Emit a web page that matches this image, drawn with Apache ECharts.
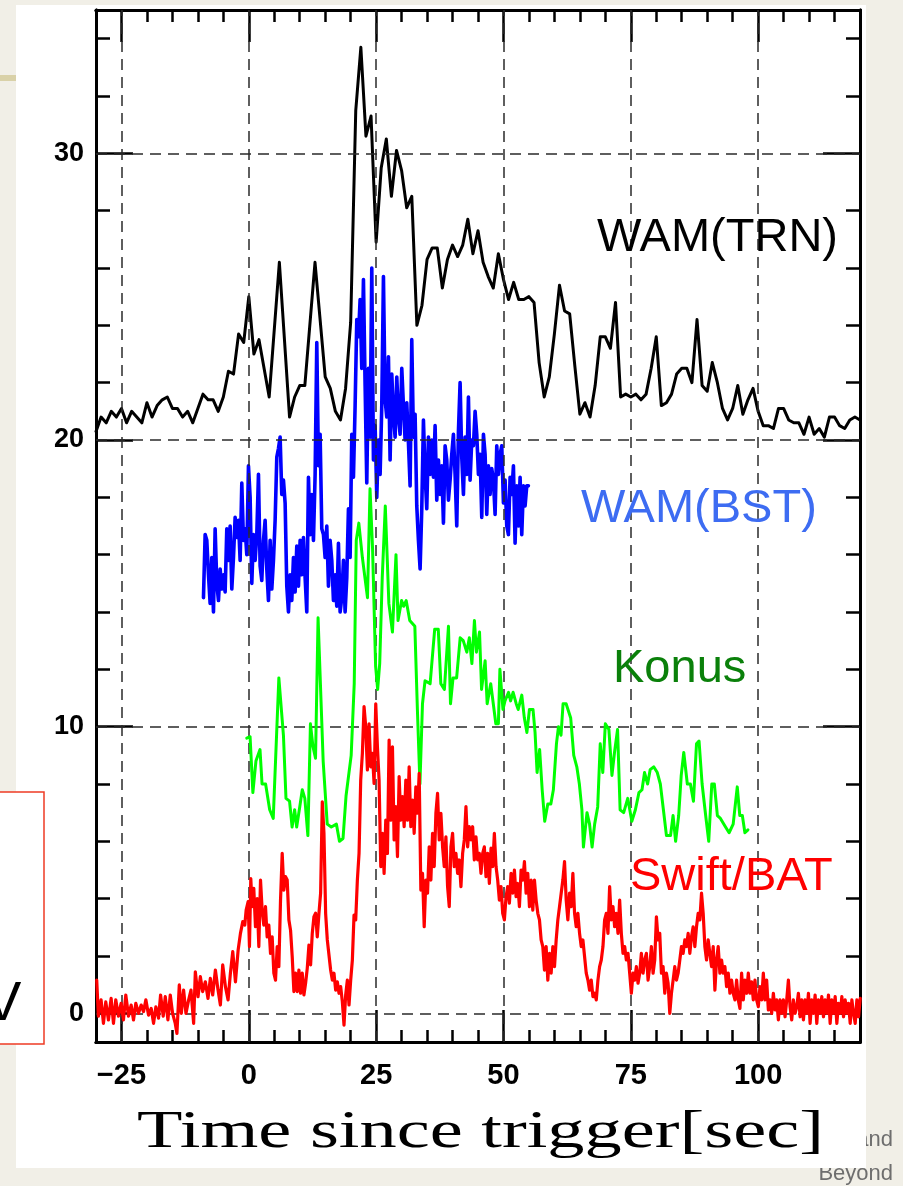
<!DOCTYPE html>
<html>
<head>
<meta charset="utf-8">
<script src="https://cdn.jsdelivr.net/npm/echarts@6/dist/echarts.min.js"></script>
<style>
html,body{margin:0;padding:0;background:#f1efe7;}
#chart{width:903px;height:1186px;}
</style>
</head>
<body>
<div id="chart"></div>
<script>
// ---------------- data ----------------
const xTickLabels = [-25, 0, 25, 50, 75, 100];
const yTickLabels = [0, 10, 20, 30];
const seriesNames = ['WAM(TRN)', 'WAM(BST)', 'Konus', 'Swift/BAT'];

// WAM(TRN) - black
const trnT = [-30,-29,-28,-27,-26,-25,-24,-23,-22,-21,-20,-19,-18,-17,-16,-15,-14,-13,-12,-11,-10,-9,-8,-7,-6,-5,-4,-3,-2,-1,0,1,2,4,6,8,9,10,11,13,15,16,17,18,19,20,21,22,23,24,25,26,27,28,29,30,31,32,33,34,35,36,37,38,39,40,41,42,43,44,45,46,47,48,49,50,51,52,53,54,55,56,57,58,59,60,61,62,63,64,65,66,67,68,69,70,71,72,73,74,75,76,77,78,79,80,81,82,83,84,85,86,87,88,89,90,91,92,93,94,95,96,97,98,99,100,101,102,103,104,105,106,107,108,109,110,111,112,113,114,115,116,117,118,119,120];
const trnV = [20.3,20.8,20.6,21.0,20.8,21.1,20.6,21.0,20.8,20.6,21.3,20.8,21.2,21.4,21.5,21.1,21.1,20.8,21.0,20.6,21.1,21.6,21.4,21.4,21.0,21.5,22.4,22.3,23.7,23.4,25.0,23.0,23.5,21.5,26.2,20.8,21.5,21.9,21.9,26.2,22.2,21.8,21.0,20.7,21.8,24.1,31.5,33.7,30.6,31.3,26.9,29.5,30.5,28.5,30.1,29.4,28.1,28.5,24.0,24.7,26.3,26.7,26.7,25.3,26.3,26.8,26.4,26.8,27.7,26.5,27.3,26.2,25.7,25.3,26.5,25.6,24.9,25.5,24.9,24.9,25.0,24.8,22.7,21.5,22.2,23.7,25.4,24.5,24.4,22.6,20.9,21.3,20.8,21.9,23.6,23.6,23.2,24.8,21.5,21.6,21.5,21.6,21.4,21.6,22.5,23.6,21.2,21.3,21.6,22.3,22.5,22.5,22.0,24.2,21.9,21.7,22.7,22.0,21.1,20.7,21.1,21.9,20.9,21.4,21.8,21.0,20.5,20.5,20.4,21.1,21.1,20.7,20.6,20.6,20.2,20.8,20.2,20.4,20.1,20.8,20.8,20.5,20.4,20.7,20.8,20.7];

// WAM(BST) - blue, evenly spaced samples between bstStart and bstEnd
const bstStart = -8.9, bstEnd = 54.9;
const bstV = [14.5,16.7,16.5,15.3,14.3,15.9,14.0,16.9,15.0,14.4,15.5,14.8,15.3,14.7,16.9,15.8,17.0,14.8,15.9,17.3,16.6,17.2,15.8,18.5,16.5,16.9,16.0,19.1,18.0,15.0,16.7,15.8,16.7,18.8,15.6,15.1,16.5,17.2,15.5,14.4,16.5,14.8,15.8,17.2,19.4,19.7,20.1,18.1,18.6,17.8,14.9,14.0,15.3,14.4,15.9,14.7,16.3,14.9,16.5,15.3,16.6,15.2,14.0,18.7,16.7,18.1,16.5,18.8,23.4,19.1,20.2,16.9,16.7,15.9,17.0,14.9,16.5,15.8,14.4,15.3,14.2,16.4,14.0,14.5,15.8,14.0,15.2,17.6,15.9,20.2,18.7,21.2,24.2,23.6,24.9,22.5,25.6,21.9,18.5,22.5,20.1,26.0,19.3,20.5,18.0,20.0,18.8,21.2,25.7,21.4,20.8,22.9,19.3,22.3,20.9,20.1,22.2,20.8,20.2,22.5,21.2,20.0,21.3,19.9,18.4,23.5,20.1,20.9,17.7,16.5,15.5,17.6,20.7,18.8,17.6,20.1,18.8,20.0,18.7,20.5,17.9,19.3,18.1,19.1,17.1,19.8,19.3,17.9,18.6,19.5,20.2,18.8,17.0,20.3,22.0,19.4,18.1,20.1,18.8,21.5,18.6,20.0,19.8,21.0,20.2,18.8,19.5,17.3,20.2,19.5,17.4,19.1,18.1,19.0,18.6,17.4,19.8,18.8,19.5,19.8,17.8,18.6,17.0,16.7,18.7,18.1,19.1,16.4,18.4,17.0,18.7,16.7,18.4,17.7,18.4,18.4];

// Konus - green
const konT = [-0.4,0.25,0.8,1.4,2.2,2.6,3.3,4.1,4.8,5.9,6.8,7.3,8.0,8.5,9.0,9.4,10.0,10.5,11.0,11.6,12.1,12.6,13.1,13.6,14.6,15.4,16.2,17.2,17.8,18.5,19.1,20.1,20.7,21.1,21.6,22.3,23.3,23.8,24.3,24.9,25.3,25.7,26.2,26.8,27.5,28.2,28.9,29.3,30.0,30.4,30.9,31.6,32.6,33.1,33.6,34.1,34.6,35.6,36.5,37.2,37.7,38.4,39.2,39.6,40.1,40.8,41.5,42.1,42.8,43.3,43.8,44.3,44.7,45.3,45.7,46.4,46.8,47.5,48.0,48.5,49.0,49.3,49.9,50.3,51.0,51.4,51.9,52.5,52.9,53.6,54.1,54.6,55.1,55.8,56.2,56.6,57.1,57.6,58.1,58.7,59.3,59.8,60.4,60.8,61.3,61.7,62.3,63.2,63.8,64.4,64.9,65.4,65.7,66.4,66.9,67.4,67.9,68.5,69.0,69.5,70.0,70.7,71.3,71.8,72.4,72.9,73.6,74.4,75.2,75.9,76.6,77.2,77.7,78.3,78.8,79.5,80.2,80.8,81.4,82.0,82.8,83.3,83.8,84.4,84.9,85.4,86.1,86.7,87.3,87.9,88.4,89.0,89.7,90.3,90.9,91.4,92.0,92.6,93.6,94.3,95.1,95.9,96.4,96.9,97.4,98.0];
const konV = [9.6,9.65,7.7,8.8,9.2,8.0,8.0,7.1,6.8,11.7,9.7,7.5,7.4,6.5,7.1,6.5,7.2,7.8,7.5,6.2,10.1,9.3,8.9,13.8,8.8,6.6,6.5,6.6,6.0,6.1,7.6,9.0,11.5,16.5,17.1,15.9,14.5,18.3,16.2,12.1,11.3,12.2,15.2,17.7,14.3,13.3,16.0,13.7,14.4,14.2,14.4,13.7,13.5,10.6,8.0,10.8,11.6,11.5,13.4,13.4,11.5,11.3,13.5,10.8,11.7,11.7,13.1,13.0,12.6,13.1,12.2,13.7,12.6,13.3,11.3,12.3,10.8,11.5,10.8,10.1,10.1,12.0,10.6,10.9,11.2,10.9,11.2,10.8,10.6,11.1,10.3,9.8,10.6,10.6,9.8,8.4,9.2,7.8,6.7,7.3,7.3,7.8,9.4,10.0,9.7,10.8,10.8,10.3,9.0,8.6,8.0,7.1,5.8,7.0,6.6,5.8,6.6,7.2,9.4,8.4,10.1,9.9,8.3,9.1,9.9,7.1,7.0,7.5,6.7,7.1,7.7,7.8,8.4,8.0,8.5,8.6,8.4,8.0,7.1,6.2,6.2,6.9,6.0,6.9,8.3,9.1,8.0,8.0,7.4,9.4,9.5,8.0,6.9,6.0,8.0,8.0,6.9,6.8,6.5,6.3,6.6,7.9,6.9,6.9,6.3,6.4];

// Swift/BAT - red: pre-burst samples with their times ...
const batPreT = [-29.86,-29.53,-29.0,-28.54,-28.08,-27.56,-27.03,-26.57,-26.12,-25.59,-25.07,-24.61,-24.15,-23.62,-23.1,-22.64,-22.18,-21.65,-21.13,-20.67,-20.21,-19.69,-19.16,-18.7,-18.24,-17.72,-17.32,-16.8,-16.4,-15.88,-15.42,-14.96,-14.44,-14.11,-13.65,-13.25,-12.8,-12.34,-11.81,-11.35,-10.83,-10.5,-9.97,-9.51,-9.06,-8.53,-8.01,-7.55,-7.09,-6.56,-6.04,-5.58,-5.12,-4.59,-4.07,-3.61,-3.15,-2.62,-2.1,-1.64,-1.18,-0.79,-0.52,-0.13,0.13,0.39,0.66,0.98,1.31,1.64,1.97,2.3];
const batPreV = [1.16,-0.1,0.47,-0.35,0.4,-0.23,0.52,-0.35,0.47,-0.1,0.35,-0.23,0.64,-0.1,0.29,-0.23,0.35,0,0.29,0.06,0.47,-0.06,0.17,-0.35,0.23,-0.17,0.64,-0.1,0.58,-0.23,0.64,0,-0.35,-0.7,0.99,0,0.81,0,0.47,0.81,-0.35,1.45,0.58,1.28,0.76,1.1,0.52,1.22,0.64,1.51,0.81,0.29,1.69,0.93,0.47,1.4,2.15,1.1,2.2,2.79,3.2,3.08,3.6,3.9,2.33,4.7,3.72,4.36,3.02,4.0,2.33,4.65];
// ... then evenly spaced samples from batStart with step batStep
const batStart = 2.62, batStep = 0.328;
const batV = [3.6,3.08,3.72,2.67,3.08,2.09,2.67,1.4,1.16,2.33,1.63,3.95,5.58,4.3,4.77,4.65,3.26,2.9,1.98,0.76,1.4,0.76,1.51,0.7,1.4,0.64,1.05,1.57,2.38,1.69,2.79,3.37,3.49,2.67,3.49,4.19,7.38,6.28,3.49,2.56,2.62,1.51,1.16,1.4,0.81,1.1,0.7,0.93,0.41,-0.41,0.64,1.16,0.29,1.16,1.86,3.43,3.26,4.65,5.58,8.14,9.07,10.7,10.0,8.49,10.1,8.6,9.07,8.02,10.8,9.3,8.14,5.12,6.28,4.88,6.74,5.58,9.53,6.74,9.3,6.05,7.21,5.47,8.26,6.74,7.56,6.51,8.14,6.74,8.6,6.51,7.44,6.28,7.9,6.98,8.37,4.3,4.88,3.02,4.65,4.19,5.81,4.65,6.28,5.12,6.98,7.67,6.05,6.98,5.81,5.12,6.16,4.42,3.72,5.81,6.28,5.12,5.58,4.88,5.35,4.42,5.58,6.05,7.21,5.81,6.51,6.05,6.51,5.35,6.16,5.35,5.58,
4.88,5.58,5.81,4.77,5.58,4.53,5.76,5.12,6.28,5.12,4.65,3.95,4.42,3.49,3.26,4.07,4.42,3.84,4.88,4.19,5.0,4.07,4.53,3.72,5.0,4.65,5.29,4.19,4.88,3.72,4.65,3.6,4.65,3.95,3.49,3.26,2.56,2.33,1.51,2.33,1.16,2.09,1.4,2.33,1.63,2.56,3.26,3.72,4.19,4.65,5.29,3.95,3.26,4.19,3.72,4.88,3.49,3.02,3.49,2.79,2.33,2.56,1.98,1.4,1.16,0.81,1.16,0.58,0.7,0.47,1.16,1.63,1.86,2.33,3.26,3.49,2.79,4.42,3.26,3.72,3.02,3.49,2.79,3.95,2.79,2.09,2.33,1.86,2.09,1.4,0.7,1.4,1.16,1.63,1.05,1.4,2.09,1.4,1.86,2.09,1.16,1.63,2.33,1.4,1.86,3.37,2.56,2.79,1.4,1.63,0.7,1.4,1.05,0,0.7,1.16,1.63,1.16,1.4,1.86,2.33,2.09,2.56,2.33,2.79,2.09,2.67,3.02,2.33,3.02,3.49,3.26,4.19,3.49,2.33,1.86,2.56,2.09,1.63,2.33,0.81,1.86,2.33,1.4,1.86,1.4,1.63,0.93,1.4,0.7,1.16,0.7,0.47,1.16,0.47,0.17,1.4,0.47,1.16,0.7,1.4,0.7,1.1,0.47,1.16,0.47,0.23,0.93,0.47,1.4,0.47,1.16,0.12,0.47,0,0.7,0.12,0.47,-0.23,0.47,0,0.47,-0.12,0.47,1.16,0.23,-0.23,0.47,0,0.23,0.7,-0.12,0.47,-0.23,0.47,0,0.7,-0.35,0.47,0,0.64,-0.35,0.47,0,0.58,-0.12,0.47,0,0.64,-0.35,0.47,0,0.58,-0.35,0.35,0,0.58,-0.12,0.47,0,0.35,-0.35,0.47,0,-0.35,0.47,-0.12,0.52];

// ---------------- build point lists ----------------
function pairs(ts, vs) { return ts.map((t, i) => [t, vs[i]]); }
const trnData = pairs(trnT, trnV);
const bstData = bstV.map((v, i) => [bstStart + (bstEnd - bstStart) * i / (bstV.length - 1), v]);
const konData = pairs(konT, konV);
const batData = pairs(batPreT, batPreV).concat(batV.map((v, i) => [batStart + batStep * i, v]));

const yMinorTicks = [];
for (let v = 0; v <= 34; v += 2) yMinorTicks.push(v);

const chart = echarts.init(document.getElementById('chart'), null, {renderer: 'canvas'});

const labelFont = {color: '#000', fontFamily: 'Liberation Sans, Arial, sans-serif', fontWeight: 'bold'};
const frame = {show: true, onZero: false, lineStyle: {color: '#000', width: 3}};
function xAx(pos, major) {
  return {
    type: 'value', position: pos, min: -30, max: 120,
    interval: major ? undefined : 5,
    axisLine: frame,
    splitLine: {show: false},
    axisTick: major
      ? {show: true, inside: true, length: 32, customValues: xTickLabels, lineStyle: {color: '#000', width: 2.5}}
      : {show: true, inside: true, length: 12, lineStyle: {color: '#000', width: 2.5}},
    axisLabel: (major && pos === 'bottom')
      ? Object.assign({show: true, fontSize: 29, margin: 19, customValues: xTickLabels,
          formatter: v => v < 0 ? '\u2212' + (-v) : String(v)}, labelFont)
      : {show: false}
  };
}
function yAx(pos, major) {
  return {
    type: 'value', position: pos, min: -1, max: 35,
    axisLine: frame,
    splitLine: {show: false},
    axisTick: major
      ? {show: true, inside: true, length: 37, customValues: yTickLabels, lineStyle: {color: '#000', width: 2.5}}
      : {show: true, inside: true, length: 14, customValues: yMinorTicks, lineStyle: {color: '#000', width: 2.5}},
    axisLabel: (major && pos === 'left')
      ? Object.assign({show: true, fontSize: 27, margin: 12, customValues: yTickLabels}, labelFont)
      : {show: false}
  };
}

const gridMarks = xTickLabels.map(v => ({xAxis: v})).concat(yTickLabels.map(v => ({yAxis: v})));

function lineSeries(name, data, color, width, z) {
  return {
    name: name, type: 'line', data: data, xAxisIndex: 0, yAxisIndex: 0,
    showSymbol: false, symbol: 'none', z: z, silent: true,
    lineStyle: {color: color, width: width, join: 'round', cap: 'round'}
  };
}

const labelStyle = (text, color, x, y) => ({
  type: 'text', x: x, y: y, z: 50,
  style: {text: text, fill: color, font: '47px "Liberation Sans", Arial, sans-serif', textVerticalAlign: 'middle', textAlign: 'left'}
});

chart.setOption({
  animation: false,
  backgroundColor: '#f1efe7',
  grid: {left: 96, right: 43, top: 10, bottom: 144, containLabel: false},
  xAxis: [xAx('bottom', true), xAx('bottom', false), xAx('top', true), xAx('top', false)],
  yAxis: [yAx('left', true), yAx('left', false), yAx('right', true), yAx('right', false)],
  series: [
    {type: 'line', data: [], z: 1, silent: true,
     markLine: {silent: true, symbol: ['none', 'none'], animation: false, label: {show: false},
       lineStyle: {color: '#2a2a2a', width: 1.5, type: [11, 7]}, data: gridMarks}},
    lineSeries(seriesNames[0], trnData, '#000000', 3, 3),
    lineSeries(seriesNames[1], bstData, '#0000ff', 3.6, 4),
    lineSeries(seriesNames[2], konData, '#00ff00', 3, 5),
    lineSeries(seriesNames[3], batData, '#ff0000', 3.2, 6)
  ],
  graphic: [
    {type: 'text', x: 893, y: 1140, z: -120, style: {text: 'and', fill: '#6e6e6e', font: '22px "Liberation Sans", Arial, sans-serif', textAlign: 'right', textVerticalAlign: 'middle'}},
    {type: 'text', x: 893, y: 1174, z: -120, style: {text: 'Beyond', fill: '#6e6e6e', font: '22px "Liberation Sans", Arial, sans-serif', textAlign: 'right', textVerticalAlign: 'middle'}},
    {type: 'rect', z: -110, shape: {x: 0, y: 75, width: 20, height: 6}, style: {fill: '#d9d1a8'}},
    {type: 'rect', z: -100, shape: {x: 16, y: 5, width: 850, height: 1163}, style: {fill: '#ffffff'}},
    {type: 'rect', z: -90, shape: {x: -5, y: 792, width: 49, height: 252}, style: {fill: '#ffffff', stroke: '#ee3b24', lineWidth: 1.5}},
    {type: 'text', x: -16, y: 1005, z: -80, style: {text: 'V', fill: '#000', font: '56px "Liberation Sans", Arial, sans-serif', textVerticalAlign: 'middle'}},
    labelStyle(seriesNames[0], '#000000', 597, 238),
    labelStyle(seriesNames[1], '#3d6cf2', 581, 509),
    labelStyle(seriesNames[2], '#0a800a', 613, 669),
    labelStyle(seriesNames[3], '#ff0000', 630, 877),
    {type: 'text', x: 137, y: 1133, z: 50, scaleX: 1.43, scaleY: 1,
     style: {text: 'Time since trigger[sec]', fill: '#000', font: '52px "Liberation Serif", "Times New Roman", serif', textVerticalAlign: 'middle', textAlign: 'left'}}
  ]
});
</script>
</body>
</html>
